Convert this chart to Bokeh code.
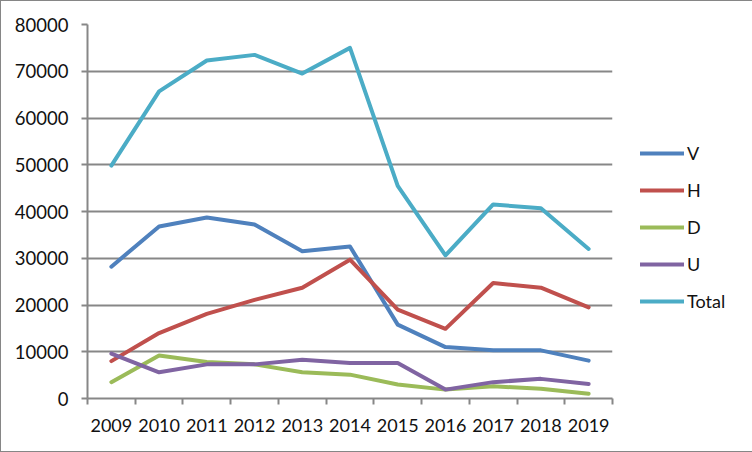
from bokeh.plotting import figure
from bokeh.models import FixedTicker, Legend, LegendItem
from bokeh.embed import file_html
from bokeh.resources import INLINE

years = [2009, 2010, 2011, 2012, 2013, 2014, 2015, 2016, 2017, 2018, 2019]
V = [28200, 36800, 38700, 37200, 31500, 32500, 15800, 11000, 10300, 10300, 8100]
H = [8000, 14000, 18100, 21100, 23700, 29700, 19000, 14900, 24700, 23700, 19500]
D = [3500, 9200, 7800, 7300, 5600, 5100, 3000, 1900, 2600, 2100, 1000]
U = [9600, 5600, 7300, 7300, 8300, 7600, 7600, 1900, 3500, 4200, 3100]
Total = [49800, 65700, 72300, 73500, 69500, 75000, 45500, 30600, 41500, 40700, 32000]
y_ticks = [0, 10000, 20000, 30000, 40000, 50000, 60000, 70000, 80000]

series = [("V", V, "#4F81BD"), ("H", H, "#C0504D"), ("D", D, "#9BBB59"),
          ("U", U, "#8064A2"), ("Total", Total, "#4BACC6")]

FONT = "Lato"
GRID = "#878787"

p = figure(frame_width=525, frame_height=374, output_backend="svg", toolbar_location=None,
           x_range=(years[0] - 0.5, years[-1] + 0.5), y_range=(0, 80000),
           min_border_left=86, min_border_right=139, min_border_top=23, min_border_bottom=53)
p.outline_line_color = None
p.background_fill_color = "white"
p.border_fill_color = "white"

items = []
for name, vals, col in series:
    r = p.line(years, vals, line_color=col, line_width=4, line_cap="round", line_join="round")
    items.append(LegendItem(label=name, renderers=[r]))

# x axis
xa = p.xaxis[0]
xa.ticker = FixedTicker(ticks=years, minor_ticks=[y - 0.5 for y in years] + [years[-1] + 0.5])
xa.major_tick_line_color = None
xa.minor_tick_line_color = GRID
xa.minor_tick_line_width = 2
xa.minor_tick_out = 6
xa.minor_tick_in = 0
xa.axis_line_color = GRID
xa.axis_line_width = 2
xa.major_label_standoff = 14
xa.major_label_text_font = FONT
xa.major_label_text_font_size = "18px"
xa.major_label_text_color = "#111111"

ya = p.yaxis[0]
ya.ticker = FixedTicker(ticks=y_ticks)
ya.major_tick_line_color = GRID
ya.major_tick_line_width = 2
ya.major_tick_out = 6
ya.major_tick_in = 0
ya.minor_tick_line_color = None
ya.axis_line_color = GRID
ya.axis_line_width = 2
ya.major_label_standoff = 13
ya.major_label_text_font = FONT
ya.major_label_text_font_size = "18.5px"
ya.major_label_text_color = "#111111"

p.xgrid.grid_line_color = None
p.ygrid.grid_line_color = GRID
p.ygrid.grid_line_width = 2
p.ygrid.ticker = FixedTicker(ticks=y_ticks)

legend = Legend(items=items, location=(28, 86), orientation="vertical",
                glyph_width=44, glyph_height=20, label_height=20, spacing=15,
                label_standoff=3, padding=0, margin=0,
                border_line_color=None, background_fill_alpha=0,
                label_text_font=FONT, label_text_font_size="18px", label_text_color="#111111")
p.add_layout(legend, "right")

p.styles = {"border": "1px solid #868686"}

open("out.html", "w").write(file_html(p, INLINE))
